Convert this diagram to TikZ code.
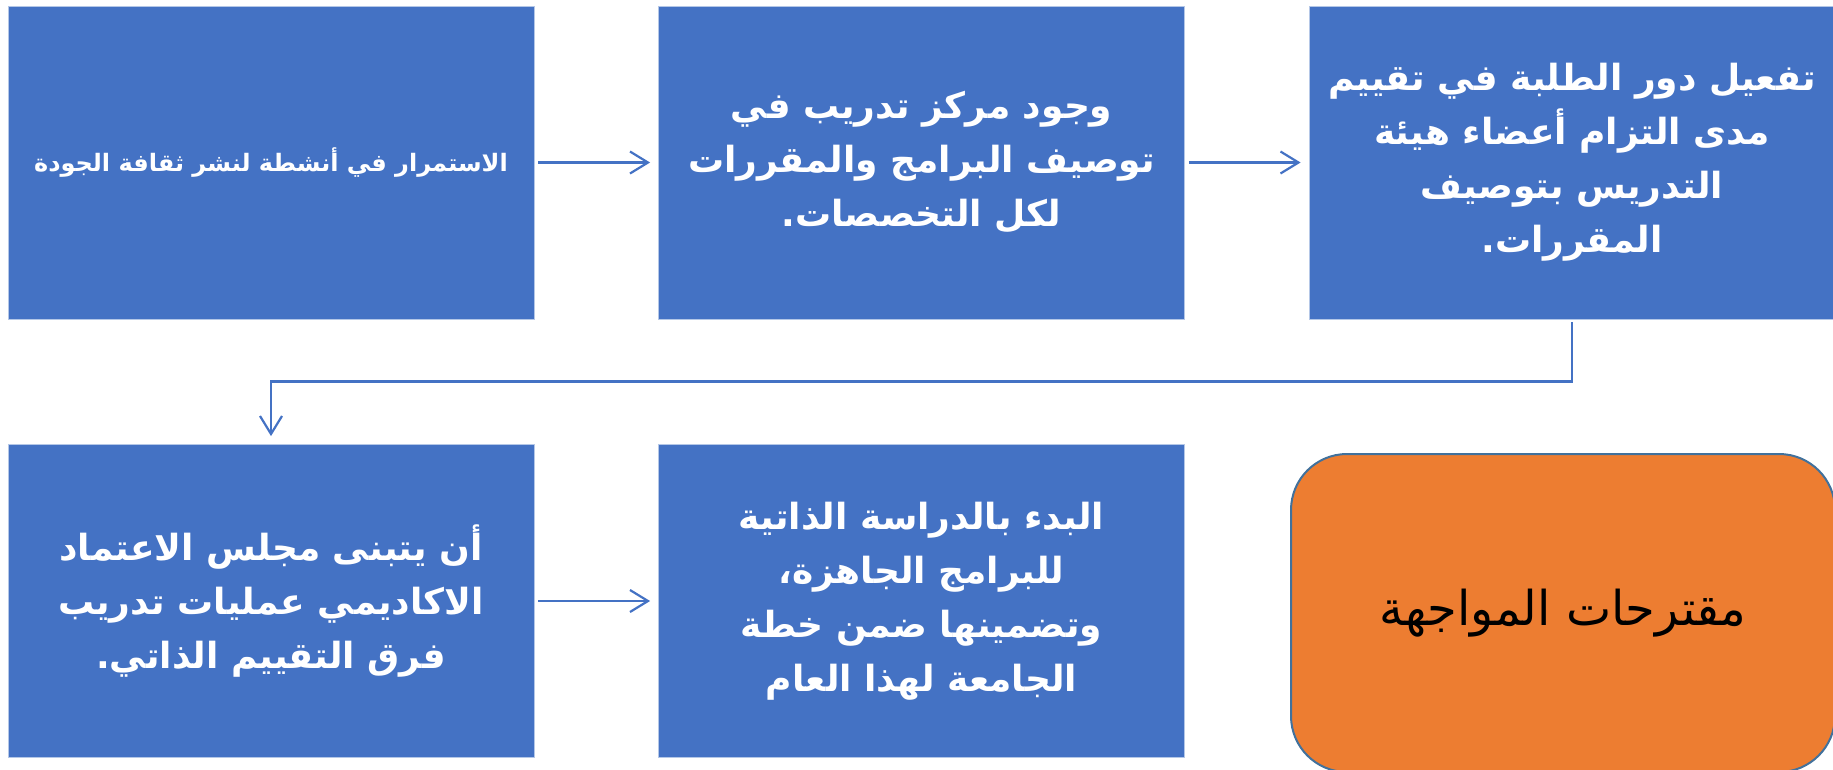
\documentclass[tikz,border=0pt]{standalone}
\usepackage{fontspec}
\TeXXeTstate=1
\newfontfamily\arabicfont[Script=Arabic]{DejaVu Sans}
\usetikzlibrary{arrows.meta}
\definecolor{boxblue}{HTML}{4472C4}
\definecolor{boxedge}{HTML}{B4C7E7}
\definecolor{orangefill}{HTML}{ED7D31}
\definecolor{orangeedge}{HTML}{41719C}
\newcommand{\ar}[1]{\beginR #1\endR}
\begin{document}
\begin{tikzpicture}[x=1pt,y=-1pt,
  bluebox/.style={rectangle, fill=boxblue, draw=boxedge, line width=0.8pt,
    minimum width=526pt, minimum height=313pt, inner sep=0pt, align=center,
    text=white, font=\arabicfont\bfseries\fontsize{36}{54}\selectfont},
  smalltext/.style={font=\arabicfont\bfseries\fontsize{24}{34}\selectfont},
  orangebox/.style={rectangle, rounded corners=56pt, fill=orangefill, draw=orangeedge,
    line width=2pt, minimum width=544pt, minimum height=318pt, inner sep=0pt,
    align=center, text=black, font=\arabicfont\fontsize{48}{56}\selectfont},
  conn/.style={draw=boxblue, line width=2.2pt,
    -{Straight Barb[length=18pt,width=22pt,line width=2.2pt]}}
]
\useasboundingbox (0,0) rectangle (1833,769);
\node[bluebox, smalltext] (b1) at (271,162.5) {\ar{الاستمرار في أنشطة لنشر ثقافة الجودة}};
\node[bluebox] (b2) at (921.5,162.5) {\ar{وجود مركز تدريب في}\\ \ar{توصيف البرامج والمقررات}\\ \ar{لكل التخصصات.}};
\node[bluebox] (b3) at (1572,162.5) {\ar{تفعيل دور الطلبة في تقييم}\\ \ar{مدى التزام أعضاء هيئة}\\ \ar{التدريس بتوصيف}\\ \ar{المقررات.}};
\node[bluebox] (b4) at (271,601) {\ar{أن يتبنى مجلس الاعتماد}\\ \ar{الاكاديمي عمليات تدريب}\\ \ar{فرق التقييم الذاتي.}};
\node[bluebox] (b5) at (921.5,601) {\ar{البدء بالدراسة الذاتية}\\ \ar{للبرامج الجاهزة،}\\ \ar{وتضمينها ضمن خطة}\\ \ar{الجامعة لهذا العام}};
\node[orangebox] (o) at (1563,613) {\ar{مقترحات المواجهة}};
\draw[conn, shorten <=4pt, shorten >=8pt] (b1) -- (b2);
\draw[conn, shorten <=4pt, shorten >=8pt] (b2) -- (b3);
\draw[conn, shorten <=4pt, shorten >=8pt] (b4) -- (b5);
\draw[conn, shorten <=3pt, shorten >=8pt] (b3.south) -- ++(0,62) -| (b4.north);
\end{tikzpicture}
\end{document}
